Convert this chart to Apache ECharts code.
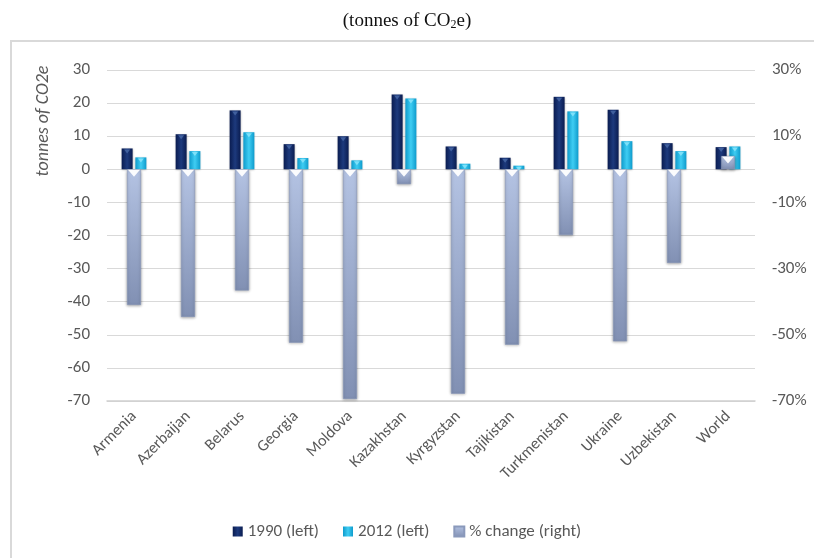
<!DOCTYPE html>
<html>
<head>
<meta charset="utf-8">
<script src="https://cdn.jsdelivr.net/npm/echarts@6/dist/echarts.min.js"></script>
<style>
html,body{margin:0;padding:0;background:#fff;}
#chart{width:814px;height:558px;}
</style>
</head>
<body>
<div id="chart"></div>
<script>
const categories = ['Armenia','Azerbaijan','Belarus','Georgia','Moldova','Kazakhstan','Kyrgyzstan','Tajikistan','Turkmenistan','Ukraine','Uzbekistan','World'];
const v1990 = [6.3, 10.6, 17.8, 7.6, 10.0, 22.6, 6.9, 3.5, 21.9, 18.0, 7.9, 6.7];
const v2012 = [3.6, 5.5, 11.2, 3.4, 2.7, 21.4, 1.7, 1.1, 17.5, 8.5, 5.5, 6.9];
const pctChange = [-41, -44.6, -36.6, -52.4, -69.4, -4.5, -67.8, -53, -19.9, -52, -28.3, 4];
const leftTicks = [-70, 30, 10];
const rightTicks = [-70, 30, 10];
const seriesNames = ['1990 (left)', '2012 (left)', '% change (right)'];

const FONT = 'Carlito, Lato, "Open Sans", sans-serif';
const G = echarts.graphic;
const grad1990 = new G.LinearGradient(0,0,1,0,[{offset:0,color:'#0a1c50'},{offset:0.5,color:'#1d3a7d'},{offset:1,color:'#0a1c50'}]);
const grad2012 = new G.LinearGradient(0,0,1,0,[{offset:0,color:'#0e9bcc'},{offset:0.5,color:'#3fcdf3'},{offset:1,color:'#0e9bcc'}]);
const gradPct = new G.LinearGradient(0,0,0,1,[{offset:0,color:'#b4c3e3'},{offset:1,color:'#8190b3'}]);

const chart = echarts.init(document.getElementById('chart'), null, {renderer:'canvas'});
const option = {
  animation: false,
  title: {
    left: 'center', top: 6,
    text: '(tonnes of CO{sub|2}e)',
    textStyle: {
      fontFamily: '"Liberation Serif", "DejaVu Serif", serif', fontSize: 19, fontWeight: 'normal', color: '#111',
      rich: { sub: { fontFamily: '"Liberation Serif", serif', fontSize: 12, color: '#111', verticalAlign: 'bottom', padding:[8,0,0,0] } }
    }
  },
  graphic: [
    { type: 'rect', shape: { x: 11, y: 41, width: 830, height: 540 }, style: { fill: 'none', stroke: '#d9d9d9', lineWidth: 2 }, silent: true, z: -1 },
    { type: 'text', x: 43, y: 121, rotation: Math.PI/2,
      style: { text: 'tonnes of CO2e', fontFamily: FONT, fontStyle: 'italic', fontSize: 18, fill: '#595959', align: 'center', verticalAlign: 'middle' } }
  ],
  legend: {
    data: seriesNames,
    top: 518, left: 'center',
    itemWidth: 10, itemHeight: 10, itemGap: 24,
    icon: 'rect',
    textStyle: { fontFamily: FONT, fontSize: 17, color: '#595959' }
  },
  grid: { left: 107, right: 59, top: 70, bottom: 157, containLabel: false },
  xAxis: [
    { type: 'category', data: categories, position: 'bottom',
      axisLine: { onZero: false, lineStyle: { color: '#d0d0d0', width: 1.5 } },
      axisTick: { show: false },
      axisLabel: { rotate: 45, margin: 13, fontFamily: FONT, fontSize: 16, color: '#595959' } },
    { type: 'category', data: categories, show: false }
  ],
  yAxis: [
    { type: 'value', min: leftTicks[0], max: leftTicks[1], interval: leftTicks[2],
      axisLine: { show: false }, axisTick: { show: false },
      axisLabel: { margin: 17, fontFamily: FONT, fontSize: 17, color: '#595959' },
      splitLine: { lineStyle: { color: '#d9d9d9', width: 1 } } },
    { type: 'value', min: rightTicks[0], max: rightTicks[1], interval: rightTicks[2],
      axisLine: { show: false }, axisTick: { show: false }, splitLine: { show: false },
      axisLabel: { margin: 17, fontFamily: FONT, fontSize: 17, color: '#595959',
        formatter: v => ((Math.round(v) - 30) % 20 === 0 ? v + '%' : '') } }
  ],
  series: [
    { name: seriesNames[0], type: 'bar', xAxisIndex: 0, yAxisIndex: 0, data: v1990,
      barWidth: 11, barGap: '25%',
      itemStyle: { color: grad1990, shadowColor: 'rgba(0,0,0,0.25)', shadowBlur: 2, shadowOffsetY: 1 } },
    { name: seriesNames[1], type: 'bar', xAxisIndex: 0, yAxisIndex: 0, data: v2012,
      barWidth: 11, barGap: '25%',
      itemStyle: { color: grad2012, shadowColor: 'rgba(0,0,0,0.25)', shadowBlur: 2, shadowOffsetY: 1 } },
    { name: seriesNames[2], type: 'bar', xAxisIndex: 1, yAxisIndex: 1, data: pctChange,
      barWidth: 14, z: 3,
      itemStyle: { color: gradPct, borderColor: '#8a99bb', borderWidth: 0.6, shadowColor: 'rgba(0,0,0,0.35)', shadowBlur: 3, shadowOffsetY: 1 } },
    { type: 'scatter', xAxisIndex: 0, yAxisIndex: 0, data: v1990, silent: true, z: 4,
      symbol: 'triangle', symbolRotate: 180, symbolSize: [6, 4], symbolOffset: [-6.9, 3],
      itemStyle: { color: '#4a6aa8' } },
    { type: 'scatter', xAxisIndex: 0, yAxisIndex: 0, data: v2012, silent: true, z: 4,
      symbol: 'triangle', symbolRotate: 180, symbolSize: [6, 4], symbolOffset: [6.9, 3],
      itemStyle: { color: '#8fe6fb' } },
    { type: 'scatter', xAxisIndex: 1, yAxisIndex: 1, data: pctChange.map(v => Math.max(0, v)), silent: true, z: 5,
      symbol: 'triangle', symbolRotate: 180, symbolSize: [12, 7], symbolOffset: [0, 4],
      itemStyle: { color: '#ffffff', opacity: 0.95 } }
  ]
};
chart.setOption(option);
</script>
</body>
</html>
